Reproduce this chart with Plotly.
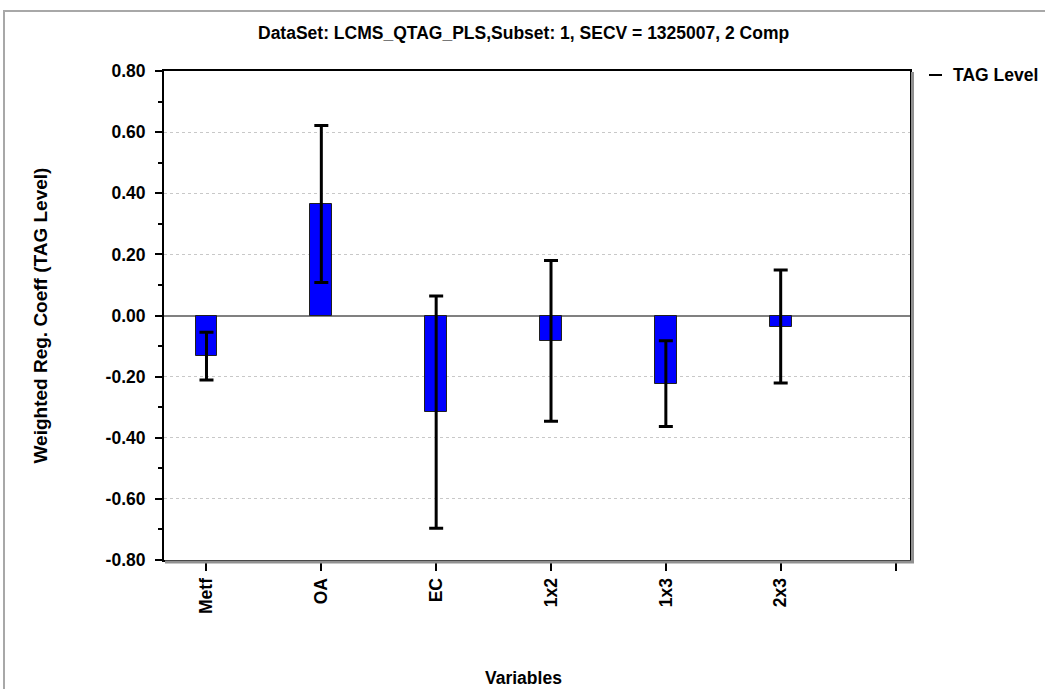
import plotly.graph_objects as go

# Weighted regression coefficients with their uncertainty
variables = ["Metf", "OA", "EC", "1x2", "1x3", "2x3"]
coeff = [-0.133, 0.365, -0.316, -0.083, -0.223, -0.036]
coeff_err = [0.078, 0.257, 0.380, 0.263, 0.140, 0.185]
y_ticks = [-0.8, -0.6, -0.4, -0.2, 0.0, 0.2, 0.4, 0.6, 0.8]

positions = list(range(1, len(variables) + 1))
tick_positions = positions + [len(variables) + 1]
tick_labels = variables + [""]
y_tick_labels = [f"{v:.2f}" for v in y_ticks]

W, H = 1045, 689
L, R, T, B = 164, 135, 71, 129
PW, PH = W - L - R, H - T - B


def px(x):
    return (x - L) / PW


def py(y):
    return (H - B - y) / PH


FONT = "Liberation Sans, Arial, sans-serif"
FS = 17.5

fig = go.Figure()
fig.add_trace(go.Bar(
    x=positions, y=coeff, width=0.19,
    marker=dict(color="#0000FF", line=dict(color="#202020", width=1)),
    error_y=dict(type="data", array=coeff_err, color="black", thickness=3, width=7),
    showlegend=False,
))

fig.update_layout(
    width=W, height=H,
    margin=dict(l=L, r=R, t=T, b=B),
    paper_bgcolor="white", plot_bgcolor="white",
    font=dict(family=FONT, size=FS, color="black", weight="bold"),
    bargap=0,
)

fig.update_xaxes(
    range=[0.63, 7.126], tickmode="array", tickvals=tick_positions, ticktext=tick_labels,
    tickangle=-90, ticks="outside", ticklen=9, tickwidth=2, tickcolor="black",
    showline=True, linecolor="black", linewidth=2, mirror=True,
    showgrid=False, zeroline=False,
    tickfont=dict(family=FONT, size=FS, weight="bold"),
)
fig.update_yaxes(
    range=[-0.8, 0.8], tickmode="array", tickvals=y_ticks, ticktext=y_tick_labels,
    ticks="outside", ticklen=7, tickwidth=2, tickcolor="black", ticklabelstandoff=6,
    showline=True, linecolor="black", linewidth=2, mirror=True,
    showgrid=True, gridcolor="#C8C8C8", griddash="dot", gridwidth=1,
    zeroline=True, zerolinecolor="#808080", zerolinewidth=2,
    minor=dict(dtick=0.1, tick0=-0.8, ticks="outside", ticklen=4, tickwidth=2,
               tickcolor="black", showgrid=False),
    tickfont=dict(family=FONT, size=FS, weight="bold"),
)

shapes = [
    # outer frame
    dict(type="rect", xref="paper", yref="paper",
         x0=px(4), x1=px(1060), y0=py(705), y1=py(11),
         line=dict(color="#A8A8A8", width=2), fillcolor="rgba(0,0,0,0)"),
    # shaded right and bottom edges of the plot frame
    dict(type="line", xref="paper", yref="paper",
         x0=px(912.5), x1=px(912.5), y0=py(72), y1=py(562),
         line=dict(color="#909090", width=3)),
    dict(type="line", xref="paper", yref="paper",
         x0=px(165), x1=px(914), y0=py(562), y1=py(562),
         line=dict(color="#909090", width=3)),
    # dotted zero line
    dict(type="line", xref="paper", yref="y", x0=0, x1=1, y0=0, y1=0,
         line=dict(color="#303030", width=1, dash="dot"), layer="between"),
    # legend key
    dict(type="line", xref="paper", yref="paper",
         x0=px(929), x1=px(942), y0=py(75), y1=py(75),
         line=dict(color="black", width=2)),
]
fig.update_layout(shapes=shapes)

annotations = [
    dict(text="DataSet: LCMS_QTAG_PLS,Subset: 1, SECV = 1325007, 2 Comp",
         x=px(523), y=py(33), xref="paper", yref="paper", showarrow=False,
         xanchor="center", yanchor="middle", font=dict(size=FS, weight="bold")),
    dict(text="Weighted Reg. Coeff (TAG Level)", textangle=-90,
         x=px(40), y=0.5, xref="paper", yref="paper", showarrow=False,
         xanchor="center", yanchor="middle", font=dict(size=19, weight="bold")),
    dict(text="Variables",
         x=px(523), y=py(678), xref="paper", yref="paper", showarrow=False,
         xanchor="center", yanchor="middle", font=dict(size=FS, weight="bold")),
    dict(text="TAG Level",
         x=px(951), y=py(75), xref="paper", yref="paper", showarrow=False,
         xanchor="left", yanchor="middle", font=dict(size=FS, weight="bold")),
]
fig.update_layout(annotations=annotations)

fig.write_html("out.html")
